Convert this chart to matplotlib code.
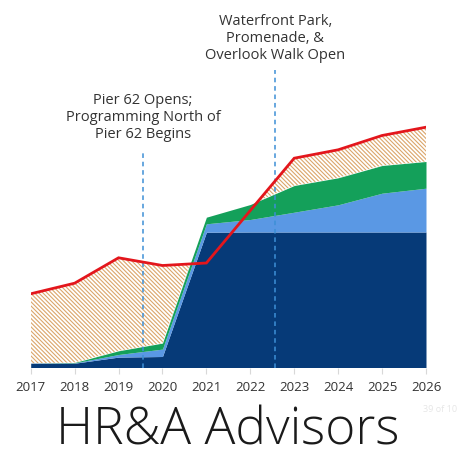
import numpy as np
import matplotlib.pyplot as plt

plt.rcParams['font.family'] = ['Open Sans', 'DejaVu Sans']
plt.rcParams['hatch.linewidth'] = 0.8

# Data (arbitrary units)
years = [2017, 2018, 2019, 2020, 2021, 2022, 2023, 2024, 2025, 2026]
base = [4.3, 4.3, 10.4, 11.0, 135.3, 135.5, 135.5, 135.5, 135.5, 135.5]
mid = [0.0, 0.3, 2.6, 7.4, 8.4, 12.5, 19.8, 27.2, 38.8, 43.8]
top = [0.0, 0.4, 3.7, 6.0, 6.6, 15.0, 26.7, 27.0, 27.7, 26.7]
demand = [73.7, 84.3, 109.7, 102.0, 104.5, 157.0, 209.3, 217.7, 232.0, 240.3]

events = [2019.56, 2022.57]
event_labels = ["Pier 62 Opens;\nProgramming North of\nPier 62 Begins",
                "Waterfront Park,\nPromenade, &\nOverlook Walk Open"]
event_line_top = [218, 298]
event_text_y = [250, 329]

W, H = 462, 459
fig = plt.figure(figsize=(W / 100, H / 100), dpi=100)
x0, x1, yb = 30.7, 426.0, 367.5
ax = fig.add_axes([x0 / W, (H - yb) / H, (x1 - x0) / W, yb / H])
ax.set_xlim(2017, 2026)
ax.set_ylim(0, yb)

x = np.array(years, dtype=float)
b = np.array(base)
m = b + np.array(mid)
t = m + np.array(top)
d = np.array(demand)

ax.fill_between(x, 0, b, color='#063a78', lw=0, zorder=2)
ax.fill_between(x, b, m, color='#5a98e4', lw=0, zorder=2)
ax.fill_between(x, m, t, color='#14a05a', lw=0, zorder=2)
ax.fill_between(x, t, d, where=d > t, interpolate=True, facecolor='white',
                edgecolor='#dba56a', hatch='\\' * 8, lw=0, zorder=1)
ax.plot(x, d, color='#e3161c', lw=2, zorder=4, solid_joinstyle='miter')

for ex, ytop, lab, ty in zip(events, event_line_top, event_labels, event_text_y):
    ax.plot([ex, ex], [0, ytop], color='#3d8fd6', lw=1.1, ls=(0, (3, 2.5)), zorder=3)
    ax.text(ex, ty, lab, ha='center', va='center', fontsize=10.5, color='#333333',
            linespacing=1.2)

for s in ax.spines.values():
    s.set_visible(False)
ax.set_yticks([])
ax.set_xticks(years)
ax.set_xticklabels([str(y) for y in years])
ax.tick_params(axis='x', length=4, color='#d8d8d8', labelsize=9.5,
               labelcolor='#333333', pad=6)

fig.text(423 / W, 1 - 409 / H, "39 of 10", fontsize=6.5, color='#e6e6e6',
         ha='left', va='center')
fig.text(228 / W, 1 - 431 / H, "HR&A Advisors", fontsize=37, color='#1a1a1a',
         ha='center', va='center', weight='light')

fig.savefig('out.png', dpi=100)
